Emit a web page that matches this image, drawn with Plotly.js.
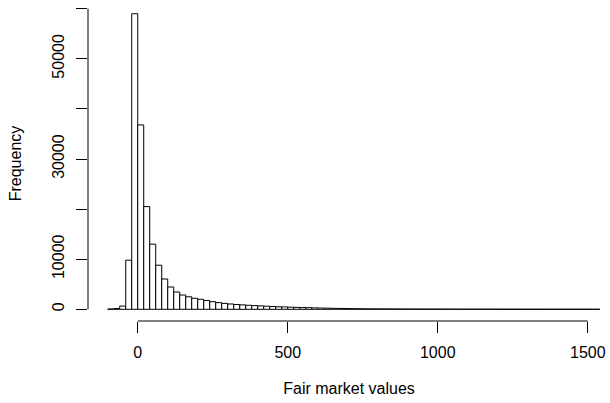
<!DOCTYPE html>
<html>
<head>
<meta charset="utf-8">
<script src="https://cdn.plot.ly/plotly-3.0.1.min.js"></script>
<style>html,body{margin:0;padding:0;background:#fff;}#chart{width:610px;height:403px;}</style>
</head>
<body>
<div id="chart"></div>
<script>
// Histogram bins: first bin starts at binStart, each bin is binWidth wide
const binStart = -100;
const binWidth = 20;
const counts = [
  60, 150, 650, 9800, 59000, 36800, 20500, 13000, 8800, 6050,
  4450, 3450, 2850, 2500, 2200, 2000, 1750, 1520, 1330, 1180,
  1060, 960, 880, 810, 740, 680, 620, 560, 510, 470,
  430, 390, 350, 320, 290, 260, 230, 200, 180, 160,
  140, 120, 110, 95, 85, 80, 75, 70, 65, 60,
  55, 52, 48, 45, 42, 40, 38, 36, 34, 32,
  30, 28, 27, 26, 25, 24, 23, 22, 21, 20,
  19, 18, 18, 17, 16, 16, 15, 15, 14, 14,
  13, 12
];
const xTickVals = [0, 500, 1000, 1500];
const xTickText = ["0", "500", "1000", "1500"];
const yTickVals = [0, 10000, 20000, 30000, 40000, 50000, 60000];
const yTickText = ["0", "10000", "", "30000", "", "50000", ""];
const xTitle = "Fair market values";
const yTitle = "Frequency";

const centers = counts.map((c, i) => binStart + binWidth * (i + 0.5));

const trace = {
  type: "bar",
  x: centers,
  y: counts,
  width: binWidth,
  marker: {color: "#ffffff", line: {color: "#000000", width: 1}},
  hoverinfo: "skip"
};

const font = {family: "Liberation Sans, Arial, sans-serif", size: 16, color: "#000"};

const layout = {
  width: 610,
  height: 403,
  margin: {l: 88, r: 0, t: 6, b: 82, pad: 0},
  paper_bgcolor: "#fff",
  plot_bgcolor: "#fff",
  showlegend: false,
  bargap: 0,
  font: font,
  xaxis: {
    range: [-165.7, 1574],
    tickvals: xTickVals,
    ticktext: xTickText,
    ticks: "outside",
    ticklen: 11,
    tickwidth: 1,
    tickcolor: "#000",
    showline: false,
    showgrid: false,
    zeroline: false,
    ticklabelstandoff: 6,
    tickfont: font,
    title: {text: xTitle, font: font, standoff: 22}
  },
  yaxis: {
    range: [-2335, 60539],
    tickvals: yTickVals,
    ticktext: yTickText,
    tickangle: -90,
    ticks: "outside",
    ticklen: 11,
    tickwidth: 1,
    tickcolor: "#000",
    showline: false,
    showgrid: false,
    zeroline: false,
    ticklabelstandoff: 6,
    tickfont: font,
    title: {text: yTitle, font: font, standoff: 23}
  },
  shapes: [
    {type: "line", xref: "paper", yref: "y", x0: 0, x1: 0, y0: yTickVals[0], y1: yTickVals[yTickVals.length - 1], line: {color: "#000", width: 1}},
    {type: "line", xref: "x", yref: "paper", x0: xTickVals[0], x1: xTickVals[xTickVals.length - 1], y0: 0, y1: 0, line: {color: "#000", width: 1}}
  ]
};

Plotly.newPlot("chart", [trace], layout, {staticPlot: true, displayModeBar: false});
</script>
</body>
</html>
